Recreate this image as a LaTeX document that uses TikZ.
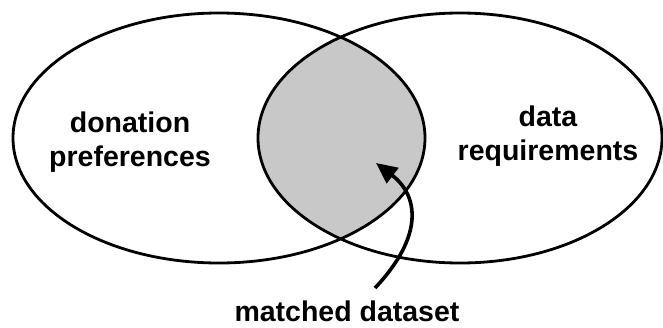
\documentclass[tikz,border=0pt]{standalone}
\usepackage{fontspec}
\setmainfont{Liberation Sans}
\usetikzlibrary{arrows.meta}

\begin{document}
\begin{tikzpicture}[x=1pt,y=-1pt,
		setline/.style={line width=2.8pt},
		setlabel/.style={font=\bfseries\fontsize{28.5}{33.5}\selectfont, align=center, inner sep=0pt, anchor=base}]
		\def\leftset{(219,138) ellipse [x radius=206pt, y radius=125pt]}
		\def\rightset{(460,138) ellipse [x radius=202pt, y radius=125pt]}
		
		\useasboundingbox (0,0) rectangle (663,327);
		
		% Fill the intersection
		\begin{scope}
			\clip \leftset;
			\fill[color={rgb,255:red,200;green,200;blue,200}] \rightset;
		\end{scope}
		
		% Draw the sets
		\draw[setline] \leftset;
		\draw[setline] \rightset;
		
		% Label the sets
		\node[setlabel] (donation) at (130,166) {donation\\preferences};
		\node[setlabel] (data) at (548,160) {data\\requirements};
		\node[setlabel] (matched) at (347,321) {matched dataset};
		
		% Point at the intersection
		\coordinate (tail) at (375,288);
		\coordinate (tip) at (376,163);
		\draw[line width=3.6pt, -{Triangle[length=21pt,width=19pt]}] (tail) .. controls (425,235) and (418,195) .. (tip);
	\end{tikzpicture}
\end{document}
